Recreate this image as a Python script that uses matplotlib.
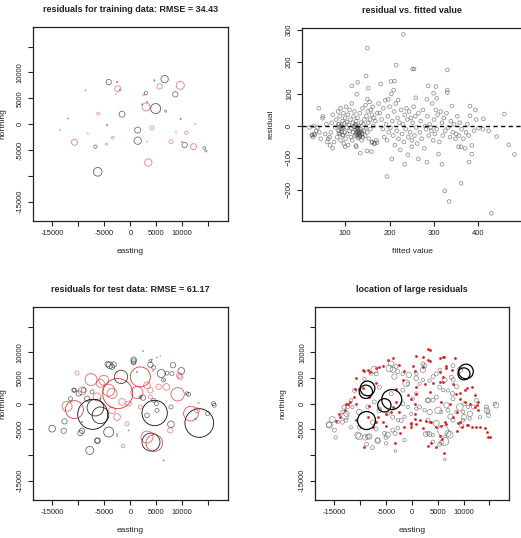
import matplotlib
matplotlib.use('Agg')
import matplotlib.pyplot as plt
import numpy as np

plt.rcParams['font.family'] = ['Liberation Sans', 'DejaVu Sans']

# training data residuals (easting, northing, residual)
train_x = [-4167, -2564, -2436, -2051, -8654, -2821, -6218, -1603, -11987, -4487,
           -13590, -8205, -3397, -10769, -6731, -4615, -6282, 1410, 1410, 3205,
           3462, 4167, 3013, 4872, 3013, 2564, 2244, 3205, 4615, 6603,
           5641, 6795, 8654, 9615, 9679, 7821, 8782, 10769, 10449, 9936,
           12179, 12500, 14231, 14551]
train_y = [8141, 8141, 6859, 6667, 6538, 5769, 2051, 1923, 1090, -192,
           -1154, -1795, -2628, -3526, -4359, -3846, -9231, -1154, -3205, -3397,
           -7436, -705, 3333, 3013, 6026, 5705, 3846, 4295, 8462, 8718,
           7308, 2500, 5769, 7500, 1026, -3397, -1603, -1667, -4038, -3397,
           -4359, 0, -4615, -5192]
train_res = [48, 12, -54, 12, 8, -8, -24, 54, 8, 12,
             -10, -10, -24, -54, 30, -18, 78, 54, 66, -8,
             -66, -36, -72, 90, 30, -18, 8, 8, 12, 66,
             -48, 18, 48, -72, 12, -36, -10, -30, 48, 8,
             -54, -10, 24, 18]

# test data residuals
test_x = [13269, -7244, -6731, -5769, 4679, -1795, 3974, -15064, -7821, -12692,
          -9615, -4167, -3974, -4359, -3526, -3205, 641, 4487, 5962, 8013,
          8205, 9808, 11218, 7821, 16154, 7821, 14872, 2436, 3205, 5000,
          -10769, -8333, -11538, -6282, 2436, 4167, 5128, 6410, -321, -2564,
          6410, 1282, -5769, -9295, 12500,
          -9940, -10900, -8980, -7370, -12830, -9290, -6410, 635, 1920, 635,
          3850, 7050, 10900, 16020, 4480, 5130, 6400, 3850,
          -2436, 1923, 1282, 9103, 11667, -10769, -7564, 4615, 3205, -12179,
          -4167, -5128, -9295, -6410, 6923, 9615, 7692, -1410, 12821, 3205,
          3846, -3526, -2564, -321, -2564, 4359, 5769, 13141,
          -5770, -3520, -1600, -10250, -635, -2560, 5450, 1920, 3850, 9400]
test_y = [-3770, -2080, -780, -2275, -1820, 5200, -7475, -4875, -9100, -3445,
          -5720, -5525, 7475, 7670, 7150, 7605, 7930, 7020, 5850, 5850,
          7475, 6370, 1820, -4030, -325, -650, -1950, 1170, -2275, 0,
          2600, 975, 975, -7150, 10205, 8580, 8970, 4550, -5200, -6305,
          -11050, 6175, 975, -3575, -2925,
          1980, 2630, 2630, 2290, -5280, -5280, -7250, 8220, 1300, 8560,
          7570, 5930, 1980, 0, 650, -1320, 4600, 8300,
          1950, 5200, 2145, 1820, -1950, -1170, 4680, -7670, -6500, -520,
          2600, 4550, 2470, 1300, 3250, 5200, -5200, -8255, -1300, 3575,
          2600, -1300, -2600, 0, 6175, 6370, 9230, 130,
          3950, 1980, 320, 5930, -3950, -5930, 3280, -650, 1300, 5500]
test_res = [258, 270, 150, 150, 228, 120, 162, 60, 72, 48,
            48, 90, 60, 48, 48, 48, 36, 36, 72, 36,
            48, 60, 36, 60, 36, 36, 36, 48, 42, 36,
            36, 48, 36, 48, 8, 8, 8, 8, 8, 8,
            10, 10, 10, 10, 10,
            48, 36, 42, 36, 48, 48, 48, 48, 24, 48,
            48, 36, 30, 36, 36, 36, 36, 24,
            -270, -180, -108, -120, -132, -162, -108, -150, -108, -90,
            -108, -90, -72, -72, -60, -48, -48, -30, -48, -60,
            -48, -60, -60, -48, -12, -12, -8, -12,
            -72, -90, -60, -36, -36, -12, -48, -36, -36, -48]

# residual vs fitted
fitted = [231, 150, 147, 215, 252, 255, 330, 128, 115, 152, 203, 211, 180, 287, 304,
          330, 330, 126, 150, 209, 197, 219, 259, 284, 306, 299, 381, 340, 393, 381,
          411, 458, 41, 49, 29, 26, 32, 441, 468, 481, 400, 423, 355, 361, 370,
          385, 385, 379, 361, 324, 334, 429, 194, 205, 234, 265, 284, 318, 310, 134,
          124, 100, 72, 159, 149, 160, 166, 172, 241, 250,
          175, 178, 182, 185, 186, 188, 190, 192, 194, 196, 198, 200, 202, 204, 206,
          208, 210, 212, 214, 216, 218, 220, 222, 224, 226, 228, 230, 232, 234, 236,
          238, 240, 242, 244, 246, 248, 250, 252, 254, 256, 258, 260, 262, 265, 268,
          270, 272, 275, 278, 280, 282, 285, 288, 290, 292, 294, 296, 298, 300, 302,
          304, 306, 308, 312, 315, 318, 320, 322, 325, 328, 332, 336, 338, 342, 345,
          348, 350, 352, 356, 358, 362, 366, 372, 375, 378, 390, 395, 410,
          20, 25, 28, 30, 35, 38, 42, 45, 50, 55, 58, 60, 65, 66,
          62, 68, 70, 72, 75, 78, 80, 82, 84, 85, 86, 88, 88, 90, 90,
          92, 93, 94, 95, 96, 97, 98, 99, 100, 101, 102, 103, 104, 105, 106,
          107, 108, 110, 110, 112, 113, 114, 115, 116, 117, 118, 119, 120, 121, 122,
          123, 124, 125, 125, 126, 127, 128, 129, 130, 131, 132, 133, 134, 135, 136,
          137, 138, 139, 140, 141, 142, 143, 145, 146, 147, 148, 150, 151, 152, 153,
          155, 156, 157, 158, 160, 161, 162, 163, 165, 166, 168, 170, 172,
          122, 124, 126, 128, 130, 132, 134, 136, 138, 125, 127, 129, 131, 133,
          88, 90, 92, 86, 94, 85, 96]
resid = [286, 243, 156, 190, 178, 178, 175, 136, 125, 118, 139, 140, 131, 125, 123,
         112, 104, 99, 84, 112, 83, 81, 88, 83, 86, 102, 62, 62, 50, 32,
         22, 37, 55, 24, 0, -28, -28, -33, -59, -89, -7, -15, -65, -65, -70,
         -88, -61, -113, -179, -203, -236, -273, -158, -103, -120, -103, -113, -120, -88, -85,
         -61, -65, -70, -80, -78, -52, -55, -52, -90, -65,
         70, 40, 20, -10, 55, -35, 80, 5, -45, 30, -20, 60, -5, 100, 15,
         -30, 45, -60, 70, -15, 25, -40, 10, -75, 50, -25, 5, -50, 35, -10,
         55, 20, -35, 45, -20, 25, -45, 10, 60, -30, 30, -5, -55, 40, -20,
         15, -40, 50, -70, 0, -10, 30, -30, 5, -5, -15, 70, -45, 20, -25,
         50, -10, 35, -50, 45, 10, -30, 25, -15, 40, -5, -35, 15, -20, 5,
         -40, -25, 30, -30, 10, -10, -40, -20, 5, -30, -15, 20, -10,
         -5, -30, -35, -25, -15, -5, -20, -40, 30, -25, 5, -50, -35, -60,
         -40, -20, 10, 35, -50, -5, 20, -35, 45, -15, 5, -25, 30, -45, 55,
         0, -10, 15, -30, 40, -55, 8, -20, 25, -40, 60, -5, 12, -25, 35,
         -60, 3, -15, 50, 20, -35, -8, 70, -45, 10, -20, 30, -3, 45, -30,
         5, -12, 15, -65, -20, -5, 25, -38, -15, 0, -25, 40, -30, -10, 10,
         -45, -20, 55, -35, 5, -15, 20, -30, 65, -5, 30, -20, 45, 10, -40,
         75, 20, -10, 50, 35, -50, 60, 0, 25, -55, 15, -45, 40,
         -2, 2, -8, -18, -22, -28, -32, -15, -25, -25, -30, -10, -35, -20,
         -2, -8, -18, -22, -28, 5, -5]

# location of large residuals: all points (grey), flagged points (red), largest (black)
all_x = [-16055, -15405, -14755, -12675, -12935, -13130, -10205, -9035, -8255, -7605,
         -8775, -7605, -6955, -6630, -7280, -7930, -10205, -11505, -4680, -5005,
         -3250, -2730, -3185, -4355, -3705, -3055, -4030, -2730, -3380, -1105,
         -1755, -585, 845, 2145, 2470, 3120, 4095, 3445, 5070, 2665,
         3445, 6045, 7345, 6370, 5720, 5395, 6370, 7995, 8645, 7865,
         6695, 7475, 9295, 10075, 9620, 11245, 11895, 13195, 14495, 14820,
         16315, 9295, 2145, 4095, 5395, 6370, 6045, 845, 1495, -130,
         -2080, -3705, -4680, -6305, -7280, -10205, -11830, -13455,
         -6900, -9180, -11100, -12400, -13400, -14360, -15970, -15000, -10480, -8540,
         -6600, -5300, -3690, -2720, -1420, -780, -1750, -4000, -11760, -8540,
         -6270, -780, -1750, -6270, -12730, -1420, -4970,
         2150, 850, 3430, 4730, 7950, 7640, 6980, 5370, 1490, 190,
         3100, 4730, 7950, 10220, 10860, 12490, 14430, 16040, 14750, 850,
         2460, 5700, 6980, 8610, 9900, 3100, 4730, 7950, 9900, 11190,
         3100, 4070, 6980, 4070]
all_y = [-4080, -3093, -6580, -1974, -2435, -658, -6383, -6580, -6383, -3619,
         -7896, -8554, -4935, -7238, 6580, 5922, -1645, -658, -6054, -6580,
         -5790, -4738, -9212, 6843, 6580, 7238, 7764, 6251, 5264, 3948,
         2632, 5593, 4935, 6580, 7370, 658, 658, -1645, -1316, -5922,
         -5922, -5264, -6054, -7369, -7567, -7896, -10857, 4606, 3290, 1974,
         -329, -2500, -658, -2632, -4277, -1974, -658, -2632, -1316, -2303,
         -329, 6580, 4606, 5264, 6580, 4606, 2632, 1974, -658, -1974,
         -3290, -2632, -1974, -1316, 329, -4606, -4606, -3619,
         5800, 4820, 2570, -650, -1620, -3550, -4190, -5150, -6120, -6440,
         -7080, -5790, -5150, -3220, -2590, -650, 0, 1930, 640, -650,
         -970, 3860, 5790, 3200, -3220, -7080, -7720,
         7720, 5790, 4500, 5790, 7390, 5130, 2570, 3200, 3860, 960,
         640, 1270, 960, 0, -650, 640, -650, 0, -1620, -970,
         -1290, -1620, -1290, -1620, -1620, -3220, -3860, -3220, -3220, -2900,
         -5790, -6120, -5790, -7410]
all_res = [48, 54, 30, 48, 60, 36, 60, 48, 48, 42,
           36, 36, 36, 48, 60, 36, 48, 30, 48, 36,
           36, 30, 24, 60, 48, 36, 48, 36, 48, 60,
           36, 48, 42, 48, 36, 48, 36, 48, 60, 42,
           42, 96, 60, 72, 36, 36, 24, 36, 36, 36,
           48, 48, 60, 48, 36, 48, 36, 30, 48, 36,
           48, 48, 30, 36, 30, 42, 30, 30, 36, 30,
           36, 36, 30, 42, 36, 36, 30, 36,
           36, 30, 36, 30, 30, 30, 54, 36, 54, 42,
           42, 36, 36, 30, 30, 30, 36, 36, 30, 36,
           30, 30, 30, 36, 36, 30, 30,
           36, 30, 30, 36, 36, 36, 30, 36, 30, 30,
           36, 36, 36, 36, 30, 36, 36, 30, 36, 30,
           30, 30, 36, 30, 30, 36, 54, 36, 30, 30,
           36, 30, 54, 30]
flag_x = [3120, 3575, 5395, 6240, 8320, 6695, 7670, 3120, 2145, 845,
          195, -1430, -2405, -3705, -4680, -5655, -6955, -8580, -9555, -10855,
          -9425, -10205, -11180, -12025, -12675, -12935, -14105, -14625, -10725, -8255,
          -5005, -3705, -3055, -2405, -1560, 520, 845, 2795, 3575, 4745,
          5720, 6695, 5915, 6175, 9295, 9620, 10595, 11700, 13195, 14495,
          15145, 12545, 12870, 11245, 10270, 9295, 9295, 10595, 11570, 12220,
          4095, 5395, 6045, 845, -130, 520, -6955, -8255, -8580, -7605,
          -6630, -5005, -5655, -130, 3120, 3770, 5395, 8645, 7995, 8645,
          -9180, -8200, -6270, -11100, -12400, -14000, -10800, -6900, -4000, -3030,
          -1750, -780, -120, -9180, -3360, -2390,
          3430, 6010, 6670, 2130, 520, 5370, 2460, 6010, 7950, 8610,
          10220, 850, 3430, 5700, 7310, 12160, 12800, 520, 1490, 3760,
          6340, 8920, 10860, 12490, 14100, 14750, -120, 2130, 4730]
flag_y = [10660, 10396, 8883, 9080, 8883, 6909, 6580, 8554, 9080, 9212,
          7238, 6251, 7567, 8883, 8554, 7238, 6909, 6580, 6580, 4935,
          2961, 2764, 1316, 329, 0, -1316, -1974, -3422, 0, -526,
          -1974, -658, 329, -1645, -4606, -2961, -3948, -3290, -3619, -4606,
          -4277, -3948, -6909, -9541, -3619, -4606, -4080, -4606, -4474, -5593,
          -6448, -329, -1316, 0, 329, 987, 2106, 2961, 3290, 1645,
          3948, 4277, 5264, 3290, 987, 0, 3948, 1316, -2632, -4606,
          -2632, -4277, -3619, -3948, -8225, -7567, -6251, -5264, -2632, -1645,
          6430, 6100, 7060, 2890, 0, -2590, -3220, -3550, -1620, 2890,
          4500, 1600, -3860, -8380, -7720, -5790,
          8360, 9000, 7390, 7060, 6430, 6100, 3860, 4170, 3860, 1930,
          2570, 1930, 2240, 310, 0, -650, 310, -1930, -3220, -3550,
          -3550, -3860, -4190, -4500, -4830, -6440, -4500, -4830, -8380]
large_x = [10465, 10075, -8580, -8905, -3900, -5330, -8775]
large_y = [6251, 5790, 2961, 2303, 790, -329, -3290]
large_res = [132, 108, 132, 120, 180, 120, 162]

RED = '#dd2020'
LIM = (-18750, 18800)
GEO_TICKS = [-15000, -10000, -5000, 0, 5000, 10000, 15000]
GEO_LABELS = ['-15000', '', '-5000', '0', '5000', '10000', '']


def size_of(res):
    return (0.08 * np.abs(np.array(res, dtype=float))) ** 2


def style(ax, title, xlabel, ylabel, ylab_x):
    ax.set_title(title, fontsize=6.5, fontweight='bold', pad=11, color='#222222')
    ax.set_xlabel(xlabel, fontsize=6, color='#222222')
    ax.set_ylabel(ylabel, fontsize=6, color='#222222')
    ax.xaxis.set_label_coords(0.5, -0.14)
    ax.yaxis.set_label_coords(ylab_x, 0.5)
    ax.tick_params(labelsize=5.5, length=3.5, width=0.8, pad=3, colors='#222222')
    for lab in ax.get_yticklabels():
        lab.set_rotation(90)
        lab.set_va('center')
    for sp in ax.spines.values():
        sp.set_linewidth(0.9)
        sp.set_color('#222222')


def geo_axes(ax):
    ax.set_xlim(LIM)
    ax.set_ylim(LIM)
    ax.set_xticks(GEO_TICKS)
    ax.set_xticklabels(GEO_LABELS)
    ax.set_yticks(GEO_TICKS)
    ax.set_yticklabels(GEO_LABELS)


def bubbles(ax, x, y, res):
    x = np.array(x)
    y = np.array(y)
    res = np.array(res, dtype=float)
    for i in np.argsort(-np.abs(res)):
        col = 'black' if res[i] > 0 else RED
        a = min(0.95, 0.4 + 0.55 * abs(res[i]) / 200)
        ax.scatter(x[i], y[i], s=size_of(res[i]), facecolors='none', edgecolors=col,
                   linewidths=0.6, alpha=a)


fig = plt.figure(figsize=(5.21, 5.38), dpi=100)

# training bubbles
ax1 = fig.add_axes([0.0633, 0.5892, 0.3743, 0.3606])
bubbles(ax1, train_x, train_y, train_res)
geo_axes(ax1)
style(ax1, 'residuals for training data: RMSE = 34.43', 'easting', 'northing', -0.135)

# residual vs fitted
ax2 = fig.add_axes([0.5797, 0.5892, 0.4223, 0.3588])
ax2.scatter(fitted, resid, s=7, facecolors='none', edgecolors='#444444',
            linewidths=0.6, alpha=0.55)
ax2.axhline(0, color='black', lw=1.0, ls=(0, (3, 2.5)))
ax2.set_xlim(3, 498)
ax2.set_ylim(-297, 306)
ax2.set_xticks([100, 200, 300, 400])
ax2.set_yticks([-200, -100, 0, 100, 200, 300])
style(ax2, 'residual vs. fitted value', 'fitted value', 'residual', -0.125)

# test bubbles
ax3 = fig.add_axes([0.0633, 0.0706, 0.3743, 0.3588])
bubbles(ax3, test_x, test_y, test_res)
geo_axes(ax3)
style(ax3, 'residuals for test data: RMSE = 61.17', 'easting', 'northing', -0.135)

# location of large residuals
ax4 = fig.add_axes([0.6046, 0.0706, 0.3724, 0.3588])
ax4.scatter(all_x, all_y, s=size_of(all_res), facecolors='none',
            edgecolors='#707070', linewidths=0.55, alpha=0.75)
ax4.scatter(flag_x, flag_y, s=4, color=RED, linewidths=0)
ax4.scatter(large_x, large_y, s=size_of(large_res), facecolors='none',
            edgecolors='black', linewidths=0.9)
geo_axes(ax4)
style(ax4, 'location of large residuals', 'easting', 'northing', -0.15)

fig.savefig('out.png', dpi=100)
